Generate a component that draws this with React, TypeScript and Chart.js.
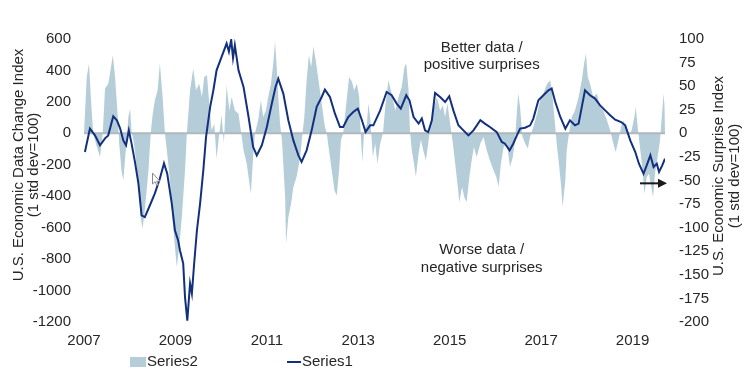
import React, { useEffect, useRef } from "react";
import { Chart, registerables } from "chart.js";

Chart.register(...registerables);

const FONT = '"Liberation Sans", Arial, sans-serif';
const TEXT_COLOR = "#262626";
const AREA_COLOR = "#b5cdd9";
const LINE_COLOR = "#12307e";

// ---- axes ----
const xTickYears = [2007, 2009, 2011, 2013, 2015, 2017, 2019];
const xMin = 2007;
const xMax = 2019.71;
const leftMin = -1200;
const leftMax = 600;
const leftStep = 200;
const rightMin = -200;
const rightMax = 100;
const rightStep = 25;

const leftTitle = ["U.S. Economic Data Change Index", "(1 std dev=100)"];
const rightTitle = ["U.S. Economic Surprise Index", "(1 std dev=100)"];
const series1Label = "Series1";
const series2Label = "Series2";
const upperNote = ["Better data /", "positive surprises"];
const lowerNote = ["Worse data /", "negative surprises"];

// ---- Series1 (line, left-axis units) ----
const series1Dates = [
  2007.02, 2007.13, 2007.24, 2007.35, 2007.46, 2007.53, 2007.64, 2007.72, 2007.79, 2007.86, 2007.92, 2007.98,
  2008.04, 2008.12, 2008.19, 2008.26, 2008.33, 2008.44, 2008.55, 2008.66, 2008.75, 2008.82, 2008.92, 2008.99,
  2009.06, 2009.10, 2009.17, 2009.21, 2009.26, 2009.32, 2009.36, 2009.41, 2009.47, 2009.54, 2009.61, 2009.67, 2009.76, 2009.83, 2009.90,
  2010.01, 2010.12, 2010.17, 2010.22, 2010.26, 2010.30, 2010.38, 2010.49, 2010.60, 2010.70, 2010.78, 2010.89,
  2011.00, 2011.11, 2011.19, 2011.25, 2011.36, 2011.47, 2011.58, 2011.69, 2011.76, 2011.87, 2011.98,
  2012.09, 2012.20, 2012.27, 2012.38, 2012.49, 2012.60, 2012.67, 2012.78, 2012.89, 2012.99,
  2013.08, 2013.16, 2013.26, 2013.33, 2013.48, 2013.62, 2013.73, 2013.84, 2013.93,
  2014.05, 2014.12, 2014.21, 2014.32, 2014.39, 2014.46, 2014.53, 2014.61, 2014.68, 2014.79, 2014.90, 2014.99,
  2015.08, 2015.19, 2015.30, 2015.41, 2015.52, 2015.67, 2015.77, 2015.88,
  2016.03, 2016.14, 2016.21, 2016.31, 2016.39, 2016.47, 2016.54, 2016.65, 2016.76, 2016.83, 2016.94,
  2017.05, 2017.16, 2017.23, 2017.31, 2017.42, 2017.53, 2017.63, 2017.74, 2017.82, 2017.89, 2017.96,
  2018.07, 2018.18, 2018.29, 2018.40, 2018.51, 2018.62, 2018.75, 2018.84, 2018.95,
  2019.06, 2019.14, 2019.24, 2019.31, 2019.39, 2019.46, 2019.53, 2019.58, 2019.65, 2019.71,
];
const series1Values = [
  -119, 30, -13, -76, -32, -13, 108, 83, 32, -45, -76, 19,
  -64, -191, -318, -522, -533, -459, -382, -287, -191, -255, -446, -618,
  -682, -745, -828, -1043, -1191, -955, -1019, -828, -618, -446, -236, -23, 168, 274, 401,
  486, 571, 520, 595, 480, 560, 401, 295, 104, -87, -140, -76,
  40, 191, 295, 348, 253, 83, -45, -140, -182, -108, 19,
  168, 231, 278, 231, 125, 40, 40, 104, 136, 157,
  83, 8, 51, 51, 146, 263, 242, 189, 157,
  242, 210, 104, 62, 94, 19, 8, 83, 257, 231, 199, 236,
  146, 51, 19, -13, 19, 83, 62, 40,
  8, -55, -66, -108, -66, -13, 30, 36, 51, 94, 210,
  242, 274, 285, 199, 104, 30, 83, 51, 62, 168, 274,
  242, 221, 178, 146, 115, 87, 72, 51, -45,
  -119, -193, -257, -204, -140, -214, -193, -246, -204, -161,
];

// ---- Series2 (area, left-axis units) ----
const series2Dates = [
  2007.00, 2007.06, 2007.11, 2007.15, 2007.20, 2007.26, 2007.35, 2007.41, 2007.46, 2007.53, 2007.58, 2007.63, 2007.68, 2007.73, 2007.77, 2007.82, 2007.86, 2007.92, 2007.97,
  2008.01, 2008.04, 2008.08, 2008.12, 2008.19, 2008.24, 2008.28, 2008.33, 2008.41, 2008.46, 2008.50, 2008.55, 2008.61, 2008.66, 2008.72, 2008.77, 2008.82, 2008.88, 2008.94, 2008.99,
  2009.03, 2009.09, 2009.14, 2009.21, 2009.25, 2009.32, 2009.39, 2009.45, 2009.52, 2009.58, 2009.63, 2009.69, 2009.74, 2009.79, 2009.85, 2009.90, 2009.96,
  2010.01, 2010.06, 2010.12, 2010.18, 2010.23, 2010.30, 2010.38, 2010.44, 2010.49, 2010.56, 2010.63, 2010.65, 2010.70, 2010.74, 2010.81, 2010.87, 2010.92, 2010.98,
  2011.03, 2011.09, 2011.14, 2011.18, 2011.22, 2011.25, 2011.29, 2011.33, 2011.36, 2011.40, 2011.42, 2011.47, 2011.53, 2011.58, 2011.65, 2011.73, 2011.78, 2011.82, 2011.87, 2011.92, 2011.97,
  2012.02, 2012.07, 2012.13, 2012.20, 2012.27, 2012.31, 2012.36, 2012.42, 2012.48, 2012.53, 2012.58, 2012.62, 2012.67, 2012.73, 2012.80, 2012.86, 2012.91, 2012.97,
  2013.02, 2013.06, 2013.09, 2013.13, 2013.19, 2013.22, 2013.26, 2013.32, 2013.37, 2013.42, 2013.48, 2013.54, 2013.59, 2013.66, 2013.73, 2013.81, 2013.88, 2013.95,
  2014.01, 2014.05, 2014.10, 2014.13, 2014.17, 2014.22, 2014.26, 2014.32, 2014.37, 2014.42, 2014.48, 2014.53, 2014.59, 2014.64, 2014.72, 2014.79, 2014.85, 2014.90, 2014.95,
  2015.01, 2015.07, 2015.12, 2015.17, 2015.21, 2015.27, 2015.32, 2015.37, 2015.43, 2015.48, 2015.53, 2015.59, 2015.67, 2015.74, 2015.81, 2015.88, 2015.96,
  2016.02, 2016.07, 2016.12, 2016.18, 2016.25, 2016.32, 2016.38, 2016.43, 2016.47, 2016.50, 2016.54, 2016.59, 2016.65, 2016.71, 2016.76, 2016.83, 2016.91, 2016.98,
  2017.05, 2017.13, 2017.20, 2017.25, 2017.31, 2017.34, 2017.39, 2017.44, 2017.47, 2017.53, 2017.56, 2017.61, 2017.67, 2017.74, 2017.82, 2017.89, 2017.94, 2017.98,
  2018.02, 2018.07, 2018.14, 2018.22, 2018.29, 2018.36, 2018.44, 2018.51, 2018.58, 2018.63, 2018.69, 2018.75, 2018.80, 2018.85, 2018.91, 2018.98,
  2019.04, 2019.07, 2019.12, 2019.17, 2019.22, 2019.26, 2019.31, 2019.36, 2019.41, 2019.45, 2019.49, 2019.55, 2019.60, 2019.64, 2019.68, 2019.70, 2019.71,
];
const series2Values = [
  0, 359, 444, 231, 0, -64, -151, 0, 285, 316, 401, 497, 359, 146, -64, -236, -299, -87, 104,
  157, 10, -40, -129, -320, -533, -607, -490, -236, 0, 115, 210, 274, 444, 231, 0, -129, -299, -554, -725,
  -852, -702, -533, -236, 0, 274, 412, 274, 316, 231, 359, 370, 189, 20, 60, -161, 0,
  115, -64, 306, 146, 231, 146, 125, 0, -108, -193, -342, -384, -150, 0, 83, 210, 104, 146,
  231, 316, 444, 582, 401, 231, 60, -45, -193, -406, -703, -533, -448, -342, -278, -151, 0, 104, 338, 497, 422,
  550, 465, 338, 189, 40, 0, -108, -236, -363, -395, -236, -45, 0, 168, 359, 330, 274, 316,
  231, -40, -182, 20, 60, 189, 104, -151, -64, -193, -64, 0, 168, 338, 254, 146, 231, 295,
  422, 444, 274, 20, -108, -193, -278, -129, -40, -108, -172, -64, 83, 146, 231, 146, 178, 104, 189,
  62, -64, -193, -320, -438, -342, -406, -438, -278, -172, -87, -151, -64, -23, -108, -172, -236,
  -278, -342, -193, -87, -64, -214, -151, -45, 140, 253, 168, -20, -64, -96, -20, 40, 125, 210,
  253, 316, 338, 231, 40, -64, -193, -342, -469, -299, -108, 0, 104, 146, 231, 338, 444, 508,
  359, 316, 231, 253, 168, 146, 83, 20, -64, -118, -45, 40, 83, 40, -20, 20,
  104, 168, 20, -108, -236, -384, -278, -257, -342, -406, -257, -151, -45, 104, 253, 168, 0,
];

// ---- annotation positions (data coordinates) ----
const noteX = 2015.7;
const upperNoteY = [541, 433];
const lowerNoteY = [-739, -853];

function zip(xs: number[], ys: number[]) {
  const n = Math.min(xs.length, ys.length);
  const out: { x: number; y: number }[] = [];
  for (let i = 0; i < n; i++) out.push({ x: xs[i], y: ys[i] });
  return out;
}

function drawRotatedLines(ctx: CanvasRenderingContext2D, lines: string[], xs: number[], cy: number) {
  lines.forEach((t, i) => {
    ctx.save();
    ctx.translate(xs[i], cy);
    ctx.rotate(-Math.PI / 2);
    ctx.textAlign = "center";
    ctx.textBaseline = "middle";
    ctx.fillText(t, 0, 0);
    ctx.restore();
  });
}

const overlayPlugin = {
  id: "overlay",
  afterDatasetDraw(chart: any, args: any) {
    if (args.index !== 0) return;
    const { ctx, chartArea, scales } = chart;
    const y0 = scales.y.getPixelForValue(0);
    ctx.save();
    ctx.strokeStyle = "#b1b7bb";
    ctx.lineWidth = 2;
    ctx.beginPath();
    ctx.moveTo(chartArea.left, y0);
    ctx.lineTo(chartArea.right, y0);
    ctx.stroke();
    ctx.restore();
  },
  afterDraw(chart: any) {
    const { ctx, scales, chartArea } = chart;
    ctx.save();
    ctx.font = `15px ${FONT}`;
    ctx.fillStyle = TEXT_COLOR;
    ctx.textAlign = "center";
    ctx.textBaseline = "middle";
    const nx = scales.x.getPixelForValue(noteX);
    upperNote.forEach((t, i) => ctx.fillText(t, nx, scales.y.getPixelForValue(upperNoteY[i])));
    lowerNote.forEach((t, i) => ctx.fillText(t, nx, scales.y.getPixelForValue(lowerNoteY[i])));

    // arrow pointing to right axis
    const ay = scales.y1.getPixelForValue(-53);
    const ax0 = chartArea.right - 25;
    const ax1 = chartArea.right + 2;
    ctx.strokeStyle = "#1a1a1a";
    ctx.fillStyle = "#1a1a1a";
    ctx.lineWidth = 2;
    ctx.beginPath();
    ctx.moveTo(ax0, ay);
    ctx.lineTo(ax1 - 7, ay);
    ctx.stroke();
    ctx.beginPath();
    ctx.moveTo(ax1, ay);
    ctx.lineTo(ax1 - 9, ay - 4.5);
    ctx.lineTo(ax1 - 9, ay + 4.5);
    ctx.closePath();
    ctx.fill();

    // mouse pointer captured in the original picture
    const cx = 152.5;
    const cy = 173;
    const pts = [
      [0, 0], [0, 11], [2.5, 8.7], [4.3, 12.3], [5.8, 11.6], [4.1, 8.2], [7.4, 8.2],
    ];
    ctx.beginPath();
    pts.forEach(([px, py], i) => (i === 0 ? ctx.moveTo(cx + px, cy + py) : ctx.lineTo(cx + px, cy + py)));
    ctx.closePath();
    ctx.fillStyle = "#ffffff";
    ctx.fill();
    ctx.strokeStyle = "#8a8a8a";
    ctx.lineWidth = 1;
    ctx.stroke();

    // axis titles
    ctx.fillStyle = TEXT_COLOR;
    drawRotatedLines(ctx, leftTitle, [19, 34], 165);
    drawRotatedLines(ctx, rightTitle, [719, 735], 176);

    // legend
    const ly = 362;
    ctx.fillStyle = AREA_COLOR;
    ctx.fillRect(130, 357, 16, 10);
    ctx.fillStyle = TEXT_COLOR;
    ctx.textAlign = "left";
    ctx.fillText(series2Label, 147, ly);
    ctx.strokeStyle = LINE_COLOR;
    ctx.lineWidth = 2;
    ctx.beginPath();
    ctx.moveTo(287, ly);
    ctx.lineTo(301, ly);
    ctx.stroke();
    ctx.fillText(series1Label, 302, ly);
    ctx.restore();
  },
};

export default function App() {
  const canvasRef = useRef<HTMLCanvasElement | null>(null);

  useEffect(() => {
    const canvas = canvasRef.current;
    if (!canvas) return;
    const tickFont = { family: FONT, size: 15 };
    const chart = new Chart(canvas, {
      type: "line",
      data: {
        datasets: [
          {
            label: series2Label,
            data: zip(series2Dates, series2Values),
            yAxisID: "y",
            fill: "origin",
            backgroundColor: AREA_COLOR,
            borderWidth: 0,
            borderColor: AREA_COLOR,
            pointRadius: 0,
            tension: 0,
            order: 2,
          },
          {
            label: series1Label,
            data: zip(series1Dates, series1Values),
            yAxisID: "y",
            fill: false,
            borderColor: LINE_COLOR,
            borderWidth: 2,
            pointRadius: 0,
            tension: 0,
            order: 1,
          },
        ],
      },
      options: {
        animation: false,
        responsive: false,
        devicePixelRatio: 1,
        layout: { padding: { top: 39, left: 0, right: 0, bottom: 0 } },
        plugins: {
          legend: { display: false },
          tooltip: { enabled: false },
          title: { display: false },
        },
        scales: {
          x: {
            type: "linear",
            min: xMin,
            max: xMax,
            grid: { display: false, drawTicks: false },
            border: { display: false },
            afterBuildTicks: (axis: any) => {
              axis.ticks = xTickYears.map((v) => ({ value: v }));
            },
            afterFit: (s: any) => {
              s.height = 65;
            },
            ticks: {
              autoSkip: false,
              maxRotation: 0,
              padding: 10,
              color: TEXT_COLOR,
              font: tickFont,
              callback: (v: any) => String(v),
            },
          },
          y: {
            position: "left",
            min: leftMin,
            max: leftMax,
            grid: { display: false, drawTicks: false },
            border: { display: false },
            afterFit: (s: any) => {
              s.width = 84;
            },
            ticks: {
              stepSize: leftStep,
              padding: 13,
              color: TEXT_COLOR,
              font: tickFont,
              callback: (v: any) => String(v),
            },
          },
          y1: {
            position: "right",
            min: rightMin,
            max: rightMax,
            grid: { display: false, drawTicks: false },
            border: { display: false },
            afterFit: (s: any) => {
              s.width = 85;
            },
            ticks: {
              stepSize: rightStep,
              padding: 14,
              color: TEXT_COLOR,
              font: tickFont,
              callback: (v: any) => String(v),
            },
          },
        },
      },
      plugins: [overlayPlugin],
    });
    return () => chart.destroy();
  }, []);

  return (
    <div style={{ position: "fixed", left: 0, top: 0, width: 750, height: 387, background: "#fff" }}>
      <canvas ref={canvasRef} width={750} height={387} style={{ display: "block", width: 750, height: 387 }} />
    </div>
  );
}
